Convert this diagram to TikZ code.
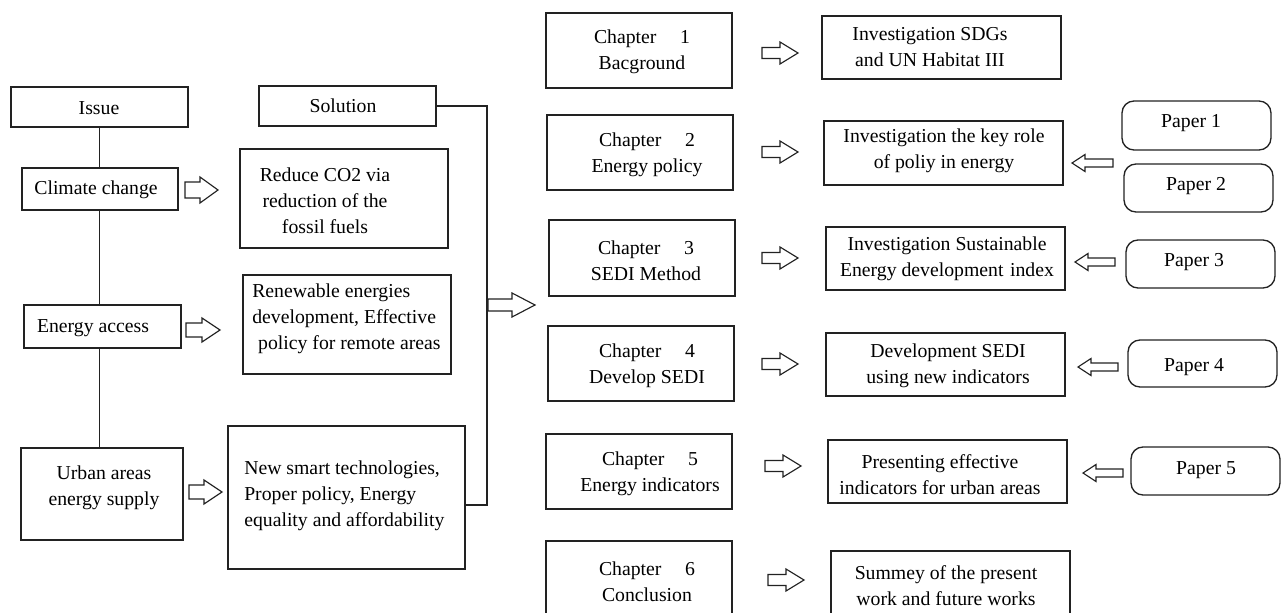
\documentclass[tikz,border=0pt]{standalone}
\usepackage{fontspec}
\setmainfont{Liberation Serif}
\definecolor{linec}{HTML}{222222}
\newcommand\mainsize{\fontsize{14.8}{19.4}\selectfont}
\newcommand\blockarr[6]{\draw[barr] ({#1},{#2-#5}) -- ({#1+(#3)-(#4)},{#2-#5}) -- ({#1+(#3)-(#4)},{#2-#6}) -- ({#1+(#3)},{#2}) -- ({#1+(#3)-(#4)},{#2+#6}) -- ({#1+(#3)-(#4)},{#2+#5}) -- ({#1},{#2+#5}) -- cycle;}
\tikzset{
  box/.style={draw=linec, line width=1pt, fill=white, inner sep=0pt, outer sep=0pt},
  paperbox/.style={box, rounded corners=9pt},
  wh/.style 2 args={minimum width=#1*0.75pt, minimum height=#2*0.75pt},
  txt/.style={font=\mainsize, align=center, inner sep=0pt, text=black, yshift=-1.4pt},
  txtl/.style={txt, align=left},
  barr/.style={draw=linec, line width=0.85pt, fill=white, line join=miter},
  link/.style={draw=linec, line width=1pt},
}
\begin{document}
\begin{tikzpicture}[x=0.75pt, y=-0.75pt]
\clip (0,0) rectangle (1284,613);
\fill[white] (0,0) rectangle (1284,613);

% ---- Issue column
\node[box, wh={177}{40}] (b-issue) at (99.5,107) {};
\node[txt] (t-issue) at (99,106) {Issue};
\node[box, wh={156}{42}] (b-cc) at (100,189) {};
\node[txt] (t-cc) at (96,188) {Climate change};
\node[box, wh={157}{43}] (b-ea) at (102.5,326.5) {};
\node[txt] (t-ea) at (93,326) {Energy access};
\node[box, wh={162}{92}] (b-ur) at (102,494) {};
\node[txt] (t-ur) at (104,486) {Urban areas\\energy supply};

\draw[link] (b-issue.south) -- (b-issue.south |- b-cc.north);
\draw[link] (b-issue.south |- b-cc.south) -- (b-issue.south |- b-ea.north);
\draw[link] (b-issue.south |- b-ea.south) -- (b-issue.south |- b-ur.north);

% ---- Solution column
\node[box, wh={177}{40}] (b-sol) at (347.5,106) {};
\node[txt] (t-sol) at (343,104) {Solution};
\node[box, wh={208}{99}] (b-rc) at (344,198.5) {};
\node[txt] (t-rc) at (325,199) {Reduce CO2 via\\reduction of the\\fossil fuels};
\node[box, wh={208}{99}] (b-re) at (347,324.5) {};
\node[txtl, anchor=west] (t-re) at (252,317) {Renewable energies\\development, Effective\\\hspace{0.3em}policy for remote areas};
\node[box, wh={237}{143}] (b-ns) at (346.5,497.5) {};
\node[txtl, anchor=west] (t-ns) at (244,494) {New smart technologies,\\Proper policy, Energy\\equality and affordability};

\blockarr{185}{190}{33}{18}{8}{13}
\blockarr{186}{330}{34}{18}{7}{12}
\blockarr{189}{492}{33}{18}{7}{12}

\coordinate (bus-bot) at (487,505);
\draw[link] (b-sol.east) -| (bus-bot) -- (bus-bot -| b-ns.east);
\blockarr{488}{305}{47}{23}{6}{12}

% ---- Chapters
\node[box, wh={186}{75}] (b-c1) at (639,50.5) {};
\node[txt] (t-c1) at (642,50) {Chapter\hspace{1.2em}1\\Bacground};
\node[box, wh={186}{75}] (b-c2) at (640,152.5) {};
\node[txt] (t-c2) at (647,153) {Chapter\hspace{1.2em}2\\Energy policy};
\node[box, wh={186}{76}] (b-c3) at (642,258) {};
\node[txt] (t-c3) at (646,259) {Chapter\hspace{1.2em}3\\SEDI Method};
\node[box, wh={186}{75}] (b-c4) at (641,363.5) {};
\node[txt] (t-c4) at (647,363.5) {Chapter\hspace{1.2em}4\\Develop SEDI};
\node[box, wh={186}{75}] (b-c5) at (639,471.5) {};
\node[txt] (t-c5) at (650,472) {Chapter\hspace{1.2em}5\\Energy indicators};
\node[box, wh={186}{75}] (b-c6) at (639,578.5) {};
\node[txt] (t-c6) at (647,579.5) {Chapter\hspace{1.2em}6\\Conclusion};

\blockarr{762}{53}{36}{18}{5.5}{11}
\blockarr{762}{152}{36}{18}{5.5}{11}
\blockarr{762}{258}{36}{18}{5.5}{11}
\blockarr{762}{364}{36}{18}{5.5}{11}
\blockarr{765}{466}{36}{18}{5.5}{11}
\blockarr{768}{580}{36}{18}{5.5}{11}

% ---- Results
\node[box, wh={239}{63}] (b-r1) at (941.5,47.5) {};
\node[txt] (t-r1) at (930,45.5) {Investigation SDGs\\and UN Habitat III};
\node[box, wh={239}{64}] (b-r2) at (943.5,153) {};
\node[txt] (t-r2) at (944,149) {Investigation the key role\\of poliy in energy};
\node[box, wh={239}{63}] (b-r3) at (945.5,258.5) {};
\node[txt] (t-r3) at (947,256.5) {Investigation Sustainable\\Energy development\,\,index};
\node[box, wh={239}{63}] (b-r4) at (945.5,364.5) {};
\node[txt] (t-r4) at (948,364) {Development SEDI\\using new indicators};
\node[box, wh={239}{63}] (b-r5) at (947.5,471.5) {};
\node[txt] (t-r5) at (940,473) {Presenting effective\\indicators for urban areas};
\node[box, wh={239}{65}] (b-r6) at (950.5,583.5) {};
\node[txt] (t-r6) at (946,583.5) {Summey of the present\\work and future works};

% ---- Papers
\node[paperbox, wh={149}{49}] (b-p1) at (1196.5,125.5) {};
\node[txt] (t-p1) at (1191,121) {Paper 1};
\node[paperbox, wh={149}{48}] (b-p2) at (1198.5,188) {};
\node[txt] (t-p2) at (1196,184) {Paper 2};
\node[paperbox, wh={149}{48}] (b-p3) at (1200.5,264) {};
\node[txt] (t-p3) at (1194,260) {Paper 3};
\node[paperbox, wh={149}{47}] (b-p4) at (1202.5,363.5) {};
\node[txt] (t-p4) at (1194,365) {Paper 4};
\node[paperbox, wh={149}{48}] (b-p5) at (1205.5,471) {};
\node[txt] (t-p5) at (1206,468) {Paper 5};

\blockarr{1113}{163}{-41}{-13}{4}{8.5}
\blockarr{1115}{262}{-40}{-13}{4}{8.5}
\blockarr{1118}{367}{-40}{-13}{4}{8.5}
\blockarr{1123}{473}{-40}{-13}{4}{8.5}
\end{tikzpicture}
\end{document}
